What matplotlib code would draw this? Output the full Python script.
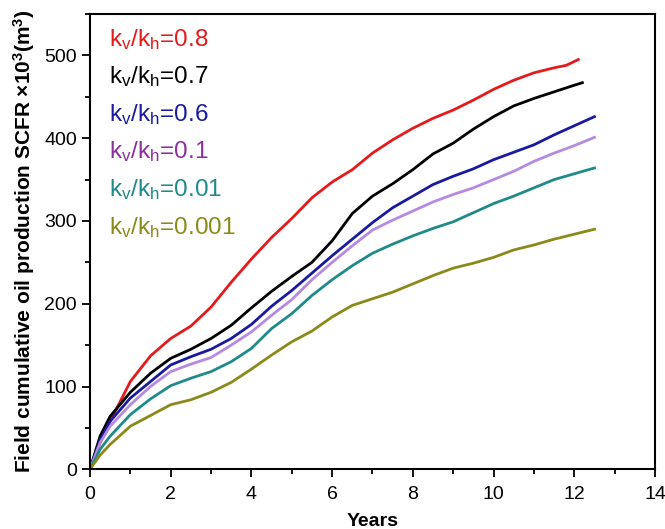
import numpy as np
import matplotlib as mpl
mpl.use("Agg")
import matplotlib.pyplot as plt
from matplotlib.ticker import MultipleLocator

mpl.rcParams["font.family"] = "Liberation Sans"
mpl.rcParams["mathtext.default"] = "regular"

# kv/kh = 0.8
t_08 = [0, 0.25, 0.5, 1, 1.5, 2, 2.5, 3, 3.5, 4, 4.5, 5, 5.5, 6, 6.5, 7, 7.5,
        8, 8.5, 9, 9.5, 10, 10.5, 11, 11.5, 11.8, 12.1]
q_08 = [0, 32, 58, 106, 137, 158, 173, 196, 226, 254, 280, 303, 328, 347, 362,
        382, 398, 412, 424, 434, 446, 459, 470, 479, 485, 488, 495]
# kv/kh = 0.7
t_07 = [0, 0.25, 0.5, 1, 1.5, 2, 2.5, 3, 3.5, 4, 4.5, 5, 5.5, 6, 6.5, 7, 7.5,
        8, 8.5, 9, 9.5, 10, 10.5, 11, 11.5, 12, 12.2]
q_07 = [0, 40, 64, 93, 116, 134, 145, 158, 174, 195, 215, 233, 250, 276, 309,
        330, 345, 362, 381, 394, 411, 426, 439, 448, 456, 464, 467]
# kv/kh = 0.6
t_06 = [0, 0.25, 0.5, 1, 1.5, 2, 2.5, 3, 3.5, 4, 4.5, 5, 5.5, 6, 6.5, 7, 7.5,
        8, 8.5, 9, 9.5, 10, 10.5, 11, 11.5, 12, 12.5]
q_06 = [0, 35, 58, 86, 106, 126, 136, 145, 158, 175, 197, 216, 237, 258, 278,
        298, 316, 330, 344, 354, 363, 374, 383, 392, 404, 415, 426]
# kv/kh = 0.1
t_01 = [0, 0.25, 0.5, 1, 1.5, 2, 2.5, 3, 3.5, 4, 4.5, 5, 5.5, 6, 6.5, 7, 7.5,
        8, 8.5, 9, 9.5, 10, 10.5, 11, 11.5, 12, 12.5]
q_01 = [0, 32, 52, 78, 100, 118, 127, 135, 150, 166, 186, 205, 229, 250, 270,
        289, 301, 312, 323, 332, 340, 350, 360, 372, 382, 391, 401]
# kv/kh = 0.01
t_001 = [0, 0.25, 0.5, 1, 1.5, 2, 2.5, 3, 3.5, 4, 4.5, 5, 5.5, 6, 6.5, 7, 7.5,
         8, 8.5, 9, 9.5, 10, 10.5, 11, 11.5, 12, 12.5]
q_001 = [0, 24, 40, 66, 85, 101, 110, 118, 130, 146, 170, 188, 210, 229, 246,
         261, 272, 282, 291, 299, 310, 321, 330, 340, 350, 357, 364]
# kv/kh = 0.001
t_0001 = [0, 0.25, 0.5, 1, 1.5, 2, 2.5, 3, 3.5, 4, 4.5, 5, 5.5, 6, 6.5, 7, 7.5,
          8, 8.5, 9, 9.5, 10, 10.5, 11, 11.5, 12, 12.5]
q_0001 = [0, 17, 30, 52, 65, 78, 84, 93, 105, 121, 138, 154, 167, 184, 198,
          206, 214, 224, 234, 243, 249, 256, 265, 271, 278, 284, 290]

labels = ["0.8", "0.7", "0.6", "0.1", "0.01", "0.001"]
line_colors = ["#e41a1c", "#000000", "#1a1aa0", "#b68ae0", "#1f8a8a", "#8a8a1a"]
text_colors = ["#e41a1c", "#000000", "#1a1aa0", "#8a2f9e", "#1f8a8a", "#8a8a1a"]
series = [(t_08, q_08), (t_07, q_07), (t_06, q_06), (t_01, q_01),
          (t_001, q_001), (t_0001, q_0001)]

fig = plt.figure(figsize=(6.65, 5.29), dpi=100)
ax = fig.add_axes([0.1353, 0.1129, 0.8497, 0.8606])

for (t, q), c in zip(series, line_colors):
    ax.plot(t, q, "-", color=c, lw=2)

for i, (lab, c) in enumerate(zip(labels, text_colors)):
    ax.text(0.033, 0.945 - i * 0.0826, "$k_v/k_h$=" + lab, color=c,
            fontsize=17.5, transform=ax.transAxes, va="center", ha="left")

ax.set_xlim(0, 14)
ax.set_ylim(0, 550)
ax.xaxis.set_major_locator(MultipleLocator(2))
ax.xaxis.set_minor_locator(MultipleLocator(1))
ax.yaxis.set_major_locator(MultipleLocator(100))
ax.yaxis.set_minor_locator(MultipleLocator(50))
ax.tick_params(which="major", direction="out", length=6, width=1.3, labelsize=14)
ax.tick_params(axis="x", which="major", pad=6)
ax.tick_params(which="minor", direction="out", length=3.5, width=1.3)
for s in ax.spines.values():
    s.set_linewidth(1.5)

ax.set_xlabel("Years", fontsize=14, fontweight="bold", labelpad=7)
ax.set_ylabel(r"Field cumulative oil production SCFR $\times$10$^3$(m$^3$)",
              fontsize=15, fontweight="bold", labelpad=5)

plt.savefig("out.png", dpi=100)
